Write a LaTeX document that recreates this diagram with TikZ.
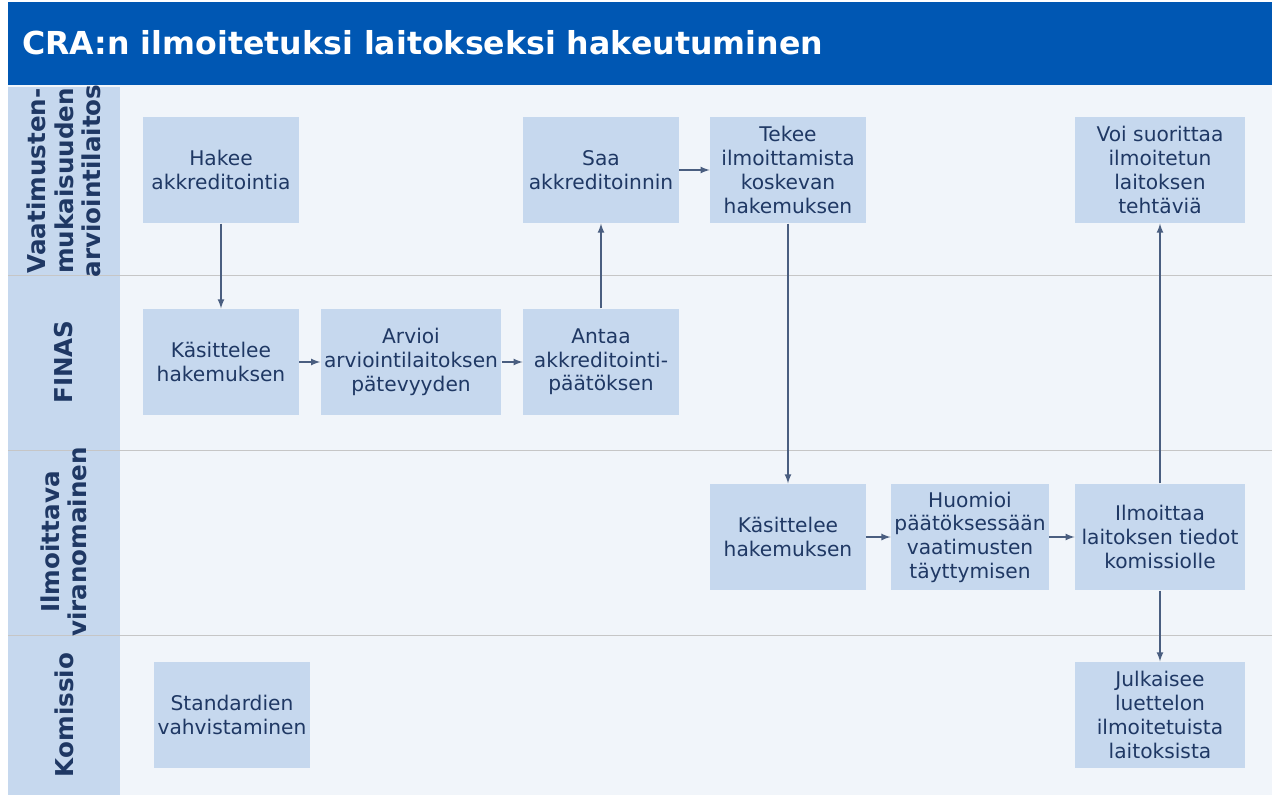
\documentclass[tikz,border=0pt]{standalone}
\usepackage{fontspec}
\setmainfont{DejaVu Sans}
\begin{document}
\begin{tikzpicture}[x=0.02cm,y=-0.02cm,
  box/.style={fill=boxblue, text=navy, align=center, inner sep=2pt,
    font=\fontsize{11.5}{13.5}\selectfont, minimum height=2.13cm},
  lane/.style={text=navy, align=center, rotate=90,
    font=\bfseries\fontsize{14}{15.5}\selectfont},
  flow/.style={->, >=latex, thick, draw=arrowc}]
\definecolor{boxblue}{HTML}{C6D8EE}
\definecolor{navy}{HTML}{1F3864}
\definecolor{arrowc}{HTML}{4A5E80}
\definecolor{titleblue}{HTML}{0057B3}
\definecolor{bgpale}{HTML}{F1F5FA}
\definecolor{lanecol}{HTML}{C6D8EE}
\useasboundingbox (0,0) rectangle (1280,797);
% background and title
\fill[white] (0,0) rectangle (1280,797);
\fill[bgpale] (8,85) rectangle (1272,795);
\fill[titleblue] (8,2) rectangle (1272,85);
\node[anchor=west, text=white, font=\bfseries\fontsize{18}{20}\selectfont] (title) at (16,43) {CRA:n ilmoitetuksi laitokseksi hakeutuminen};
% lane column
\fill[lanecol] (8,87) rectangle (120,795);
\foreach \y in {275,450,635} \draw[gray!45] (8,\y) -- (1272,\y);
\node[lane] (l1) at (64,181) {Vaatimusten-\\mukaisuuden\\arviointilaitos};
\node[lane] (l2) at (64,362) {FINAS};
\node[lane] (l3) at (64,542) {Ilmoittava\\viranomainen};
\node[lane] (l4) at (64,715) {Komissio};
% boxes
\node[box, minimum width=3.12cm] (hakee) at (221,170) {Hakee\\akkreditointia};
\node[box, minimum width=3.12cm] (saa) at (601,170) {Saa\\akkreditoinnin};
\node[box, minimum width=3.12cm] (tekee) at (788,170) {Tekee\\ilmoittamista\\koskevan\\hakemuksen};
\node[box, minimum width=3.4cm] (voi) at (1160,170) {Voi suorittaa\\ilmoitetun\\laitoksen\\tehtäviä};
\node[box, minimum width=3.12cm] (kasf) at (221,362) {Käsittelee\\hakemuksen};
\node[box, minimum width=3.4cm] (arvioi) at (411,362) {Arvioi\\arviointilaitoksen\\pätevyyden};
\node[box, minimum width=3.12cm] (antaa) at (601,362) {Antaa\\akkreditointi-\\päätöksen};
\node[box, minimum width=3.12cm] (kasv) at (788,537) {Käsittelee\\hakemuksen};
\node[box, minimum width=3.12cm] (huom) at (970,537) {Huomioi\\päätöksessään\\vaatimusten\\täyttymisen};
\node[box, minimum width=3.4cm] (ilm) at (1160,537) {Ilmoittaa\\laitoksen tiedot\\komissiolle};
\node[box, minimum width=3.12cm] (stand) at (232,715) {Standardien\\vahvistaminen};
\node[box, minimum width=3.4cm] (julk) at (1160,715) {Julkaisee\\luettelon\\ilmoitetuista\\laitoksista};
% connectors
\draw[flow] (hakee) -- (kasf);
\draw[flow] (kasf) -- (arvioi);
\draw[flow] (arvioi) -- (antaa);
\draw[flow] (antaa) -- (saa);
\draw[flow] (saa) -- (tekee);
\draw[flow] (tekee) -- (kasv);
\draw[flow] (kasv) -- (huom);
\draw[flow] (huom) -- (ilm);
\draw[flow] (ilm) -- (voi);
\draw[flow] (ilm) -- (julk);
\end{tikzpicture}
\end{document}
